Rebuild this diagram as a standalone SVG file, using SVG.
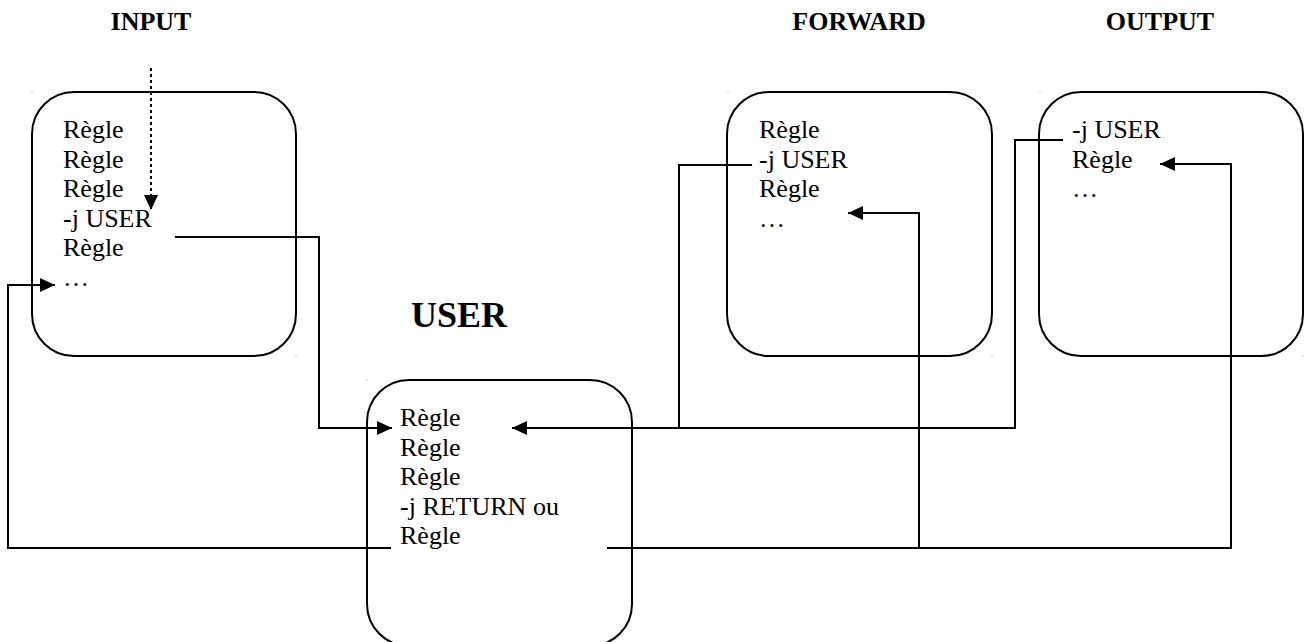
<svg xmlns="http://www.w3.org/2000/svg" width="1306" height="642" viewBox="0 0 1306 642">
  <style>
    .box { fill: none; stroke: #000; stroke-width: 2; }
    .rule { font-family: "Liberation Serif", "Times New Roman", serif; font-size: 26px; fill: #000; }
    .title { font-family: "Liberation Serif", "Times New Roman", serif; font-size: 26px; font-weight: bold; fill: #000; text-anchor: middle; }
    .chain { font-family: "Liberation Serif", "Times New Roman", serif; font-size: 36px; font-weight: bold; fill: #000; }
    .wire { fill: none; stroke: #000; stroke-width: 2; }
    .dotted { fill: none; stroke: #000; stroke-width: 2; stroke-dasharray: 3 3; }
    .tick { fill: #999; }
  </style>
  <defs>
    <marker id="arrow" markerUnits="userSpaceOnUse" markerWidth="16" markerHeight="14" refX="15" refY="7" orient="auto">
      <path d="M0,0 L15,7 L0,14 Z" fill="#000"/>
    </marker>
  </defs>

  <rect width="1306" height="642" fill="#fff"/>

  <!-- chain titles -->
  <text class="title" x="151" y="30">INPUT</text>
  <text class="title" x="859" y="30">FORWARD</text>
  <text class="title" x="1160" y="30">OUTPUT</text>
  <text class="chain" x="411" y="327">USER</text>

  <!-- INPUT chain -->
  <g id="input">
    <rect class="box" x="32" y="92" width="264" height="264" rx="42" ry="42"/>
    <text class="rule" x="63" y="138">Règle</text>
    <text class="rule" x="63" y="167.5">Règle</text>
    <text class="rule" x="63" y="197">Règle</text>
    <text class="rule" x="63" y="226.5">-j USER</text>
    <text class="rule" x="63" y="256">Règle</text>
    <text class="rule" x="63" y="285.5">…</text>
    <rect class="tick" x="31.5" y="91.5" width="1" height="1"/>
    <rect class="tick" x="295.5" y="355.5" width="1" height="1"/>
  </g>

  <!-- USER chain -->
  <g id="user">
    <rect class="box" x="367" y="380" width="265" height="266" rx="42" ry="42"/>
    <text class="rule" x="400" y="426">Règle</text>
    <text class="rule" x="400" y="455.5">Règle</text>
    <text class="rule" x="400" y="485">Règle</text>
    <text class="rule" x="400" y="514.5">-j RETURN ou</text>
    <text class="rule" x="400" y="544">Règle</text>
    <rect class="tick" x="366.5" y="379.5" width="1" height="1"/>
  </g>

  <!-- FORWARD chain -->
  <g id="forward">
    <rect class="box" x="727" y="92" width="265" height="264" rx="42" ry="42"/>
    <text class="rule" x="759" y="138">Règle</text>
    <text class="rule" x="759" y="167.5">-j USER</text>
    <text class="rule" x="759" y="197">Règle</text>
    <text class="rule" x="759" y="226.5">…</text>
    <rect class="tick" x="727.5" y="92.5" width="1" height="1"/>
    <rect class="tick" x="991.5" y="355.5" width="1" height="1"/>
  </g>

  <!-- OUTPUT chain -->
  <g id="output">
    <rect class="box" x="1039" y="92" width="264" height="264" rx="42" ry="42"/>
    <text class="rule" x="1072" y="138">-j USER</text>
    <text class="rule" x="1072" y="167.5">Règle</text>
    <text class="rule" x="1072" y="197">…</text>
    <rect class="tick" x="1039.5" y="92.5" width="1" height="1"/>
    <rect class="tick" x="1302.5" y="355.5" width="1" height="1"/>
  </g>

  <!-- jumps and returns -->
  <g id="connectors">
    <!-- incoming packet -->
    <path class="dotted" d="M151,68 V210" marker-end="url(#arrow)"/>
    <!-- INPUT -j USER -->
    <path class="wire" d="M175,237 H319 V428 H392" marker-end="url(#arrow)"/>
    <!-- return to INPUT -->
    <path class="wire" d="M391,548 H8 V285 H55" marker-end="url(#arrow)"/>
    <!-- FORWARD -j USER -->
    <path class="wire" d="M752,165 H679 V428"/>
    <!-- OUTPUT -j USER, joined with FORWARD -->
    <path class="wire" d="M1063,140 H1015 V428 H512" marker-end="url(#arrow)"/>
    <!-- return to OUTPUT -->
    <path class="wire" d="M607,548 H1231 V164 H1160" marker-end="url(#arrow)"/>
    <!-- return to FORWARD -->
    <path class="wire" d="M919,548 V213 H848" marker-end="url(#arrow)"/>
  </g>
</svg>
